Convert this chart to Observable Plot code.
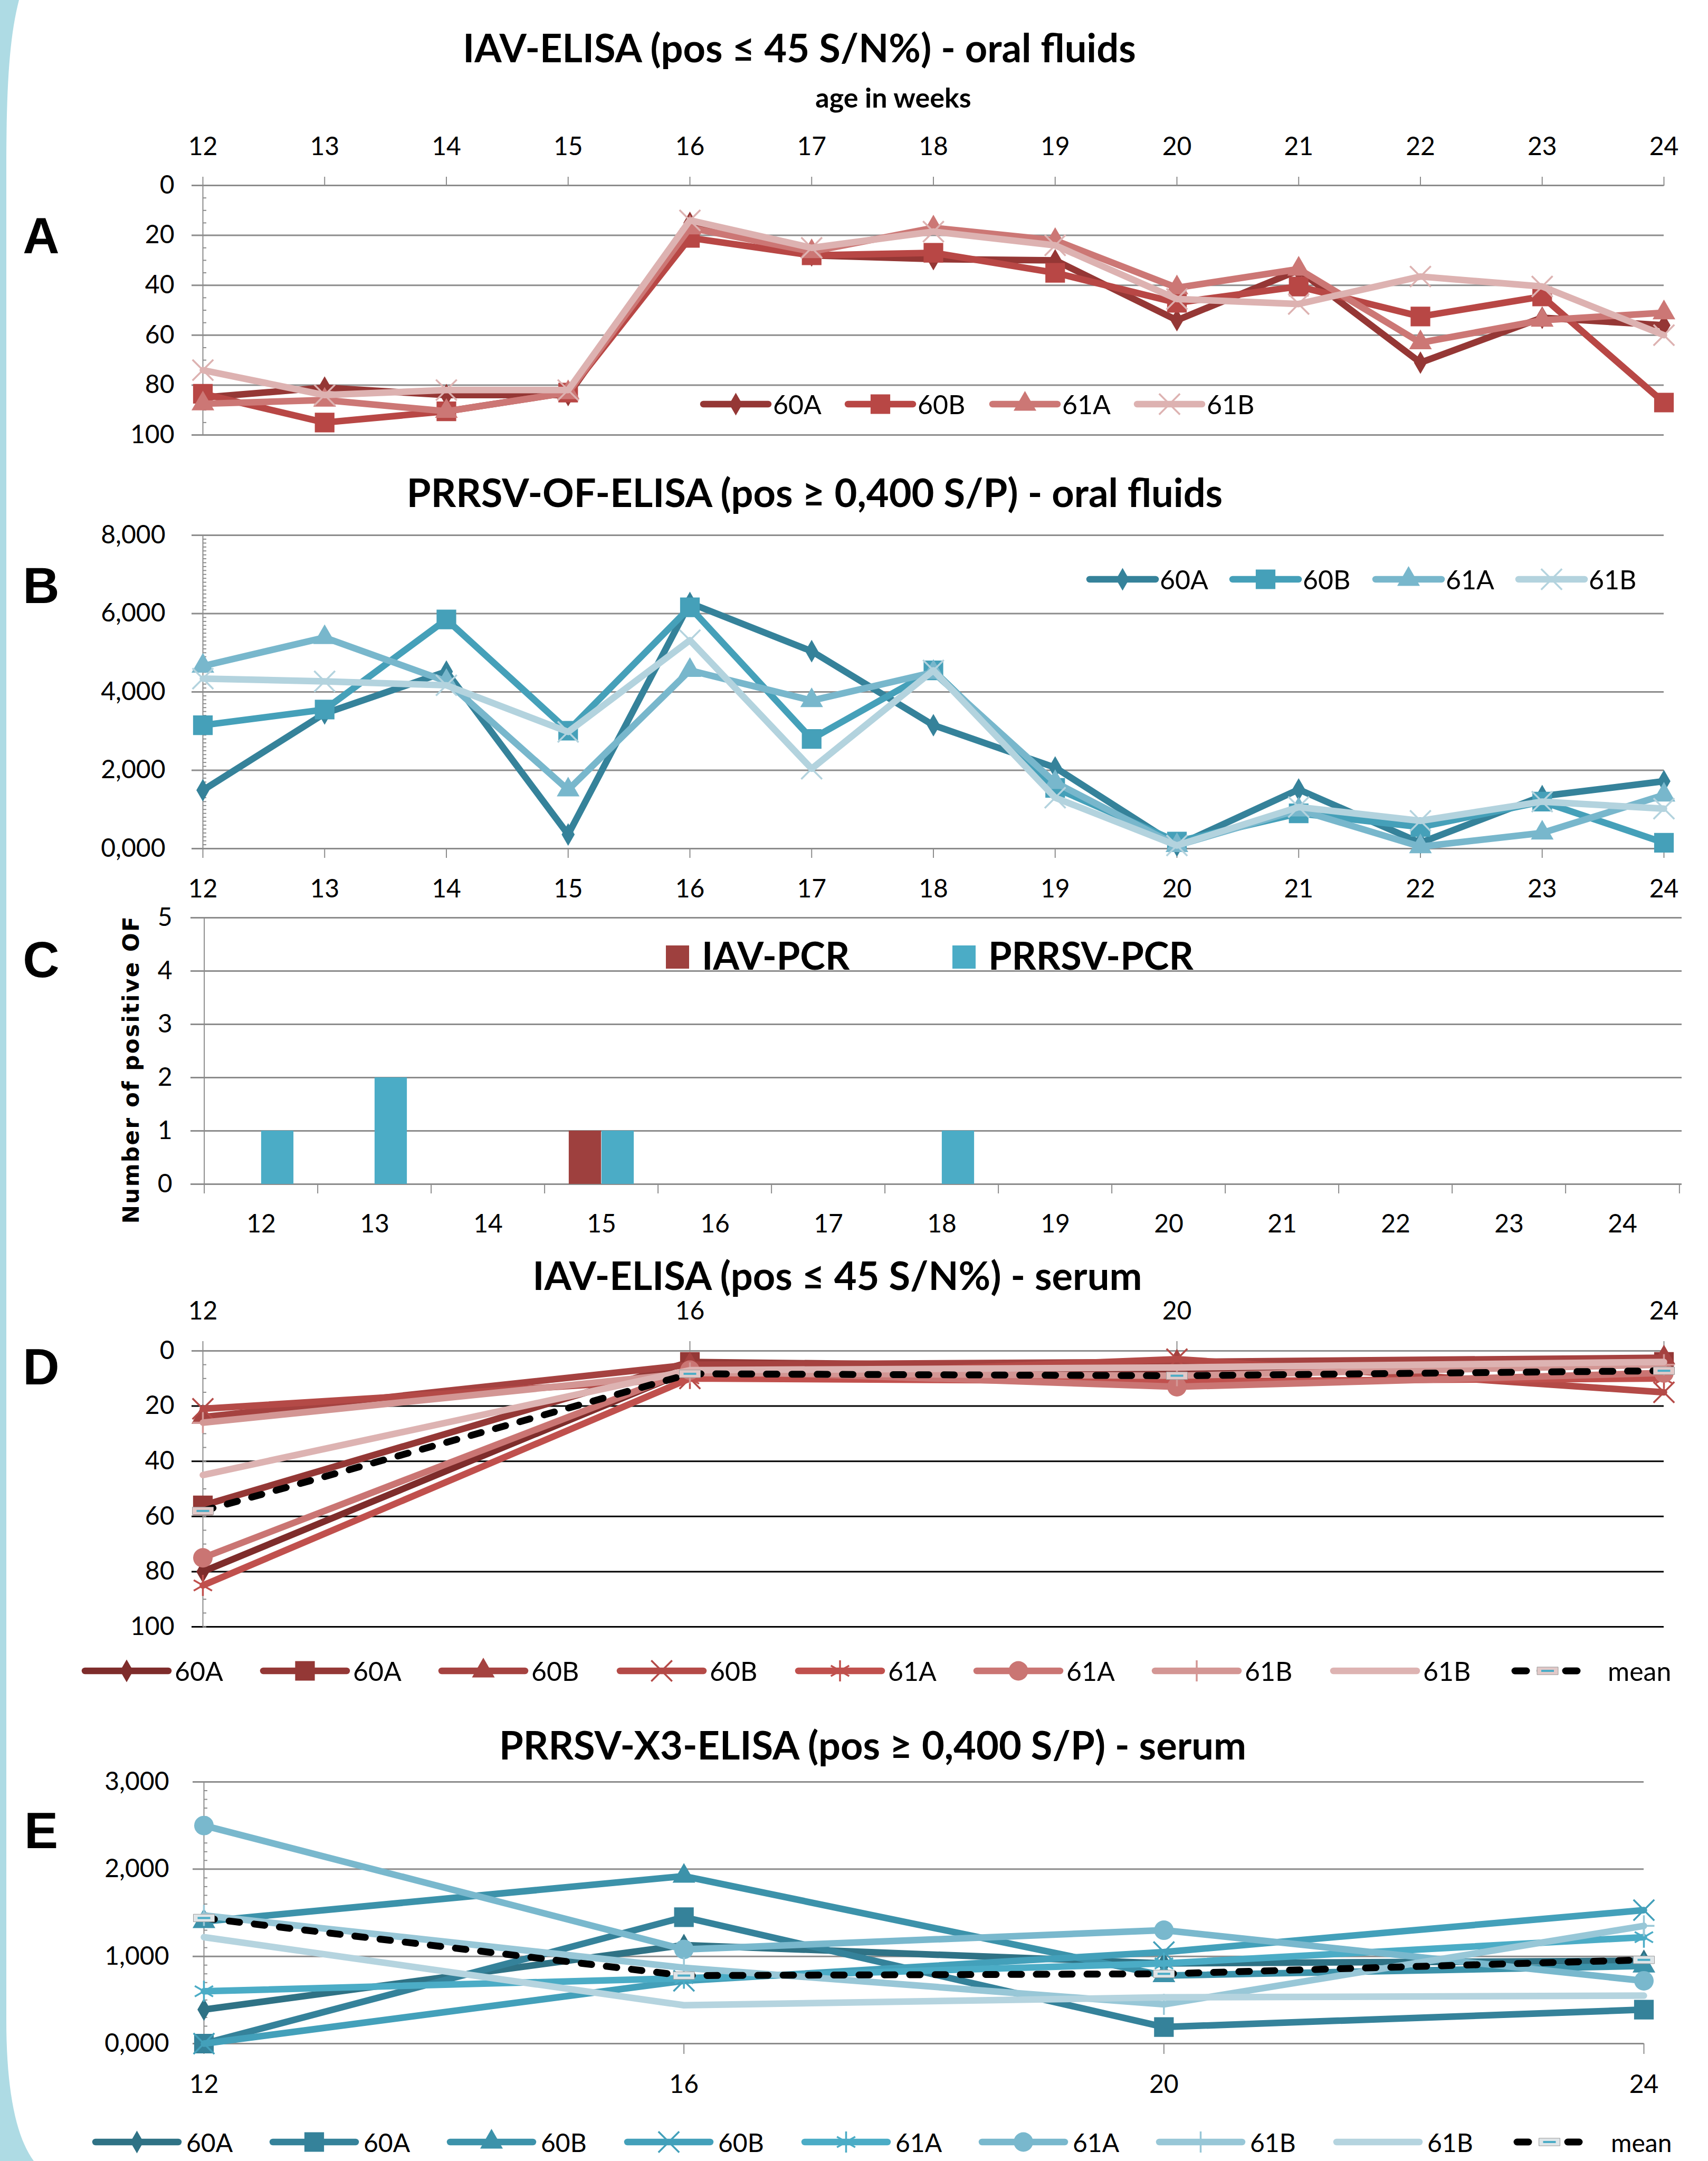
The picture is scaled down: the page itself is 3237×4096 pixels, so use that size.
<!DOCTYPE html>
<html><head><meta charset="utf-8">
<script src="https://cdn.jsdelivr.net/npm/d3@7"></script>
<script src="https://cdn.jsdelivr.net/npm/@observablehq/plot@0.6"></script>
<style>
html,body{margin:0;padding:0;background:#fff;}
#root{position:relative;width:3237px;height:4096px;overflow:hidden;background:#fff;}
.panel{position:absolute;left:0;}
#overlay{position:absolute;left:0;top:0;}
</style></head><body><div id="root"></div>
<script>
// ---------------- DATA ----------------
const weeksOF = [12,13,14,15,16,17,18,19,20,21,22,23,24];
const weeksSerum = [12,16,20,24];
const groupsOF = ["60A","60B","61A","61B"];

// A: IAV-ELISA oral fluids (S/N%)
const iavOF60A = [85,81,84,84,15,28,29.5,30,54,34,71,53,56];
const iavOF60B = [83.5,95,90.5,83,21,28,27,35,47,40.5,52.5,44.5,87];
const iavOF61A = [87.5,86,90.5,83,17,26.5,17,22,41,33.5,63,54,51];
const iavOF61B = [74,84,82,82,14,25,18.5,24,45.5,47.5,36.5,40.5,60];

// B: PRRSV-OF-ELISA oral fluids (S/P)
const prrsvOF60A = [1.49,3.45,4.52,0.36,6.27,5.04,3.15,2.07,0.08,1.51,0.15,1.34,1.72];
const prrsvOF60B = [3.15,3.55,5.85,3.01,6.16,2.8,4.55,1.55,0.18,0.9,0.55,1.2,0.15];
const prrsvOF61A = [4.66,5.39,4.27,1.5,4.55,3.78,4.5,1.69,0.08,0.99,0.05,0.4,1.37];
const prrsvOF61B = [4.34,4.27,4.17,2.98,5.32,2.04,4.55,1.3,0.08,1.06,0.71,1.2,1.02];

// C: number of positive oral fluids
const pcrTests = ["IAV-PCR","PRRSV-PCR"];
const iavPCR   = [0,0,0,1,0,0,0,0,0,0,0,0,0];
const prrsvPCR = [1,2,0,1,0,0,1,0,0,0,0,0,0];

// D: IAV-ELISA serum (S/N%)
const serumLabels = ["60A","60A","60B","60B","61A","61A","61B","61B","mean"];
const iavSerum60A_1 = [80,7,7,3];
const iavSerum60A_2 = [56,4,6,4];
const iavSerum60B_1 = [24,5,4,2.5];
const iavSerum60B_2 = [21,10,3,15];
const iavSerum61A_1 = [85,10,11,10];
const iavSerum61A_2 = [75,7,13,8];
const iavSerum61B_1 = [26,8,9,5];
const iavSerum61B_2 = [45,7,6,4];
const iavSerumMean  = [58,8.3,9,7.2];

// E: PRRSV-X3-ELISA serum (S/P)
const prSerum60A_1 = [0.39,1.13,0.92,0.95];
const prSerum60A_2 = [0.0,1.45,0.19,0.39];
const prSerum60B_1 = [1.40,1.92,0.78,0.89];
const prSerum60B_2 = [0.0,0.72,1.05,1.53];
const prSerum61A_1 = [0.6,0.75,0.92,1.22];
const prSerum61A_2 = [2.5,1.08,1.3,0.72];
const prSerum61B_1 = [1.47,0.87,0.45,1.35];
const prSerum61B_2 = [1.22,0.44,0.53,0.55];
const prSerumMean  = [1.44,0.78,0.80,0.96];

// tick values
const yTicksIAV = [0,20,40,60,80,100];
const yTicksOF = [0,2,4,6,8];
const yTicksPCR = [0,1,2,3,4,5];
const yTicksPRSerum = [0,1,2,3];

// ---------------- STYLE ----------------
const colorsIAV_OF = ["#953735","#b84745","#cc7775","#ddb2b1"];
const colorsPR_OF  = ["#35829a","#45a0b9","#78b7cc","#b3d3de"];
const symbolsOF    = ["diamond","square","triangle","times"];
const colorsIAV_S  = ["#7e2c2b","#943836","#a54240","#b44a47","#c0504d","#ca7573","#d39694","#ddb3b2"];
const colorsPR_S   = ["#2f7285","#35829a","#3c92aa","#43a0ba","#4bacc6","#79b8cd","#98c7d7","#b5d4df"];
const symbolsS     = ["diamond","square","triangle","times","asterisk","circle","thinplus","none"];
const symR = {diamond:13, square:21, triangle:16, times:18, asterisk:19, circle:18.5, thinplus:20};
const strokeOnly = new Set(["times","asterisk","thinplus"]);
const thinPlus = {draw(ctx, size){ const r = Math.sqrt(size/Math.PI); ctx.moveTo(0,-r); ctx.lineTo(0,r); ctx.moveTo(-r,0); ctx.lineTo(r,0);} };
const dashRect = {draw(ctx, size){ const r = Math.sqrt(size/Math.PI); ctx.rect(-r,-r*0.36,2*r,r*0.72);} };
const hDash = {draw(ctx, size){ const r = Math.sqrt(size/Math.PI); ctx.moveTo(-r*0.6,0); ctx.lineTo(r*0.6,0);} };
const plotSym = s => s === "thinplus" ? thinPlus : s;
const d3Sym = {diamond:d3.symbolDiamond, square:d3.symbolSquare, triangle:d3.symbolTriangle, times:d3.symbolTimes, asterisk:d3.symbolAsterisk, circle:d3.symbolCircle, thinplus:thinPlus};
const GRAY = "#8c8c8c";
const LW = 12.5;
const fmtSP = d => d3.format(".3f")(d).replace(".", ",");

// ---------------- TABLES ----------------
function longRows(weeks, arrays) {
  const rows = [];
  arrays.forEach((arr, k) => arr.forEach((v, i) => rows.push({key: k, week: weeks[i], value: v})));
  return rows;
}
const rowsA = longRows(weeksOF, [iavOF60A, iavOF60B, iavOF61A, iavOF61B]);
const rowsB = longRows(weeksOF, [prrsvOF60A, prrsvOF60B, prrsvOF61A, prrsvOF61B]);
const rowsD = longRows(weeksSerum, [iavSerum60A_1, iavSerum60A_2, iavSerum60B_1, iavSerum60B_2, iavSerum61A_1, iavSerum61A_2, iavSerum61B_1, iavSerum61B_2, iavSerumMean]);
const rowsE = longRows(weeksSerum, [prSerum60A_1, prSerum60A_2, prSerum60B_1, prSerum60B_2, prSerum61A_1, prSerum61A_2, prSerum61B_1, prSerum61B_2, prSerumMean]);
const rowsC = [];
weeksOF.forEach((w, i) => {
  rowsC.push({test: pcrTests[0], week: w, value: iavPCR[i]});
  rowsC.push({test: pcrTests[1], week: w, value: prrsvPCR[i]});
});

const seriesOF = (colors) => groupsOF.map((g, i) => ({label: g, color: colors[i], symbol: symbolsOF[i]}));
const seriesS = (colors, meanFill) => serumLabels.map((g, i) => i === 8
  ? {label: g, mean: true, markerFill: meanFill}
  : {label: g, color: colors[i], symbol: symbolsS[i]});

function seriesMarks(rows, series) {
  const marks = [];
  series.forEach((s, k) => {
    const d = rows.filter(r => r.key === k);
    if (s.mean) {
      marks.push(Plot.line(d, {x: "week", y: "value", stroke: "#000", strokeWidth: 13, strokeDasharray: "20,28", strokeLinecap: "round"}));
      marks.push(Plot.dot(d, {x: "week", y: "value", symbol: dashRect, r: 20, fill: s.markerFill, stroke: "#9a9a9a", strokeWidth: 1}));
      marks.push(Plot.dot(d, {x: "week", y: "value", symbol: hDash, r: 20, fill: "none", stroke: "#4bacc6", strokeWidth: 4}));
    } else {
      marks.push(Plot.line(d, {x: "week", y: "value", stroke: s.color, strokeWidth: LW, strokeLinejoin: "round"}));
      if (s.symbol !== "none") {
        const so = strokeOnly.has(s.symbol);
        marks.push(Plot.dot(d, {x: "week", y: "value", symbol: plotSym(s.symbol), r: symR[s.symbol],
          fill: so ? "none" : s.color, stroke: so ? s.color : "none", strokeWidth: so ? 3.5 : 0}));
      }
    }
  });
  return marks;
}

const root = document.getElementById("root");
function place(svg, top) {
  const wrap = document.createElement("div");
  wrap.className = "panel";
  wrap.style.top = top + "px";
  wrap.appendChild(svg);
  root.appendChild(wrap);
}

function linePanel(cfg) {
  const marks = [
    Plot.ruleY(cfg.grayGrid, {y: d => d, stroke: GRAY, strokeWidth: 3, insetLeft: -21}),
    Plot.ruleY(cfg.blackGrid || [], {y: d => d, stroke: "#000", strokeWidth: 3, insetLeft: -21}),
    Plot.ruleX([cfg.xDomain[0]], {x: d => d, stroke: GRAY, strokeWidth: 2}),
    Plot.axisY({ticks: cfg.yMinor, tickSize: 7, dx: 7, tickFormat: () => "", stroke: GRAY, strokeWidth: 2, label: null}),
    Plot.axisY({ticks: cfg.yTicks, tickSize: 0, tickPadding: cfg.yPad, tickFormat: cfg.yFmt, fontSize: 48, fill: "#000", label: null}),
    Plot.axisX({anchor: cfg.xAnchor, ticks: cfg.xTicks, tickSize: cfg.xTickSize, tickFormat: () => "", stroke: GRAY, strokeWidth: 2, label: null}),
    Plot.axisX({anchor: cfg.xAnchor, ticks: cfg.xTicks, tickSize: 0, tickPadding: cfg.xPad, fontSize: 48, fill: "#000", label: null}),
    ...seriesMarks(cfg.rows, cfg.series)
  ];
  const svg = Plot.plot({
    width: 3237, height: cfg.height,
    marginTop: cfg.mt, marginBottom: cfg.mb, marginLeft: cfg.ml, marginRight: cfg.mr,
    style: {fontFamily: "Lato, sans-serif", fontSize: "48px", color: "#000", background: "transparent"},
    x: {domain: cfg.xDomain, label: null},
    y: {domain: cfg.yDomain, reverse: cfg.reverse || false, label: null},
    marks
  });
  place(svg, cfg.top);
}

// ---- Panel A ---- frame 351..824
linePanel({
  top: 230, height: 634, mt: 121, mb: 40, ml: 384, mr: 84,
  xDomain: [12, 24], xTicks: weeksOF, xAnchor: "top", xTickSize: 17, xPad: 58,
  yDomain: [0, 100], reverse: true, yTicks: yTicksIAV, yMinor: d3.range(0, 101, 5), yPad: 54, yFmt: d => String(d),
  grayGrid: yTicksIAV, rows: rowsA, series: seriesOF(colorsIAV_OF)
});
// ---- Panel B ---- frame 1014..1608
linePanel({
  top: 974, height: 744, mt: 40, mb: 110, ml: 384, mr: 84,
  xDomain: [12, 24], xTicks: weeksOF, xAnchor: "bottom", xTickSize: 18, xPad: 58,
  yDomain: [0, 8], yTicks: yTicksOF, yMinor: d3.range(0, 8.001, 0.1), yPad: 71, yFmt: fmtSP,
  grayGrid: yTicksOF, rows: rowsB, series: seriesOF(colorsPR_OF)
});
// ---- Panel C ---- frame 1739..2244
{
  const ml = 382, mr = 50, mt = 40, mb = 110, H = 655;
  const bw = (3237 - ml - mr) / weeksOF.length;
  const frameH = H - mt - mb;
  const barW = 62;
  const svg = Plot.plot({
    width: 3237, height: H, marginTop: mt, marginBottom: mb, marginLeft: ml, marginRight: mr,
    style: {fontFamily: "Lato, sans-serif", fontSize: "48px", color: "#000", background: "transparent"},
    x: {type: "band", domain: weeksOF, padding: 0, label: null},
    y: {domain: [0, 5], label: null},
    marks: [
      Plot.ruleY(yTicksPCR, {y: d => d, stroke: GRAY, strokeWidth: 3, insetLeft: -21}),
      Plot.ruleX([weeksOF[0]], {x: d => d, dx: -bw / 2, stroke: GRAY, strokeWidth: 2}),
      Plot.ruleX(weeksOF, {x: d => d, dx: -bw / 2, stroke: GRAY, strokeWidth: 2, insetTop: frameH, insetBottom: -18}),
      Plot.ruleX([weeksOF[weeksOF.length - 1]], {x: d => d, dx: bw / 2, stroke: GRAY, strokeWidth: 2, insetTop: frameH, insetBottom: -18}),
      Plot.axisY({ticks: yTicksPCR, tickSize: 0, tickPadding: 56, tickFormat: d => String(d), fontSize: 48, fill: "#000", label: null}),
      Plot.axisX({tickSize: 0, tickPadding: 57, fontSize: 48, fill: "#000", label: null}),
      Plot.barY(rowsC.filter(d => d.test === pcrTests[0] && d.value > 0), {x: "week", y: "value", fill: "#9e403e", insetLeft: bw / 2 - barW, insetRight: bw / 2}),
      Plot.barY(rowsC.filter(d => d.test === pcrTests[1] && d.value > 0), {x: "week", y: "value", fill: "#4bacc6", insetLeft: bw / 2, insetRight: bw / 2 - barW})
    ]
  });
  place(svg, 1699);
}
// ---- Panel D ---- frame 2560..3083
linePanel({
  top: 2455, height: 668, mt: 105, mb: 40, ml: 384, mr: 84,
  xDomain: [12, 24], xTicks: weeksSerum, xAnchor: "top", xTickSize: 19, xPad: 60,
  yDomain: [0, 100], reverse: true, yTicks: yTicksIAV, yMinor: d3.range(0, 101, 5), yPad: 54, yFmt: d => String(d),
  grayGrid: [0], blackGrid: yTicksIAV.slice(1), rows: rowsD, series: seriesS(colorsIAV_S, "#e2c9c8")
});
// ---- Panel E ---- frame 3377..3873
linePanel({
  top: 3337, height: 646, mt: 40, mb: 110, ml: 386, mr: 122,
  xDomain: [12, 24], xTicks: weeksSerum, xAnchor: "bottom", xTickSize: 20, xPad: 59,
  yDomain: [0, 3], yTicks: yTicksPRSerum, yMinor: d3.range(0, 3.001, 0.1), yPad: 66, yFmt: fmtSP,
  grayGrid: yTicksPRSerum, rows: rowsE, series: seriesS(colorsPR_S, "#dfe5e8")
});

// ---------------- OVERLAY: titles, letters, legends ----------------
const ov = d3.select("#root").append("svg").attr("id", "overlay").attr("width", 3237).attr("height", 4096);
ov.append("path")
  .attr("d", "M0,0 L36,0 C18,70 12,160 12,320 L12,3830 C12,3960 30,4050 64,4096 L0,4096 Z")
  .attr("fill", "#aedbe4");

function txt(x, y, s, {size = 48, weight = 400, anchor = "start", family = "Lato, sans-serif", baseline = null, rotate = 0, spacing = 0} = {}) {
  const t = ov.append("text").attr("x", x).attr("y", y).text(s)
    .attr("font-family", family).attr("font-size", size).attr("font-weight", weight)
    .attr("text-anchor", anchor).attr("fill", "#000");
  if (baseline) t.attr("dominant-baseline", baseline);
  if (spacing) t.attr("letter-spacing", spacing);
  if (rotate) t.attr("transform", `rotate(${rotate},${x},${y})`);
  return t;
}
const T = {size: 74, weight: 700, anchor: "middle"};
txt(1515, 118, "IAV-ELISA (pos ≤ 45 S/N%) - oral fluids", T);
txt(1693, 204, "age in weeks", {size: 52, weight: 700, anchor: "middle"});
txt(1544, 961, "PRRSV-OF-ELISA (pos ≥ 0,400 S/P) - oral fluids", T);
txt(1587, 2445, "IAV-ELISA (pos ≤ 45 S/N%) - serum", T);
txt(1654, 3335, "PRRSV-X3-ELISA (pos ≥ 0,400 S/P) - serum", T);

const L = {size: 96, weight: 700, anchor: "middle", family: "Liberation Sans, Arial, sans-serif"};
txt(78, 480, "A", L);
txt(78, 1143, "B", L);
txt(78, 1852, "C", L);
txt(78, 2624, "D", L);
txt(78, 3503, "E", L);

txt(263, 2027, "Number of positive OF", {size: 42, weight: 700, anchor: "middle", family: "DejaVu Sans, sans-serif", rotate: -90, spacing: 2.5});

// C legend
ov.append("rect").attr("x", 1262).attr("y", 1792).attr("width", 44).attr("height", 44).attr("fill", "#9e403e");
txt(1330, 1838, pcrTests[0], {size: 72, weight: 700});
ov.append("rect").attr("x", 1805).attr("y", 1792).attr("width", 44).attr("height", 44).attr("fill", "#4bacc6");
txt(1873, 1838, pcrTests[1], {size: 72, weight: 700});

function legend(series, {x0, y, step, len, textDx, size}) {
  series.forEach((s, i) => {
    const x = x0 + i * step;
    if (s.mean) {
      const ml = len - 22, cx = x + ml / 2;
      ov.append("line").attr("x1", x + 6).attr("x2", x + ml).attr("y1", y).attr("y2", y)
        .attr("stroke", "#000").attr("stroke-width", 13).attr("stroke-dasharray", "22,26").attr("stroke-linecap", "round");
      ov.append("path").attr("d", d3.symbol(dashRect, Math.PI * 400)()).attr("transform", `translate(${cx},${y})`)
        .attr("fill", s.markerFill).attr("stroke", "#9a9a9a").attr("stroke-width", 1);
      ov.append("path").attr("d", d3.symbol(hDash, Math.PI * 400)()).attr("transform", `translate(${cx},${y})`)
        .attr("fill", "none").attr("stroke", "#4bacc6").attr("stroke-width", 4);
      txt(x + textDx + 12, y, s.label, {size, baseline: "central"});
    } else {
      const cx = x + len / 2;
      ov.append("line").attr("x1", x).attr("x2", x + len).attr("y1", y).attr("y2", y)
        .attr("stroke", s.color).attr("stroke-width", LW).attr("stroke-linecap", "round");
      if (s.symbol !== "none") {
        const so = strokeOnly.has(s.symbol), r = symR[s.symbol];
        ov.append("path").attr("d", d3.symbol(d3Sym[s.symbol], Math.PI * r * r)()).attr("transform", `translate(${cx},${y})`)
          .attr("fill", so ? "none" : s.color).attr("stroke", so ? s.color : "none").attr("stroke-width", so ? 3.5 : 0);
      }
      txt(x + textDx, y, s.label, {size, baseline: "central"});
    }
  });
}
legend(seriesOF(colorsIAV_OF), {x0: 1333, y: 766, step: 274, len: 123, textDx: 132, size: 50});
legend(seriesOF(colorsPR_OF), {x0: 2065, y: 1098, step: 271, len: 125, textDx: 133, size: 50});
legend(seriesS(colorsIAV_S, "#e2c9c8"), {x0: 161, y: 3167, step: 338, len: 158, textDx: 170, size: 50});
legend(seriesS(colorsPR_S, "#dfe5e8"), {x0: 181, y: 4060, step: 336, len: 157, textDx: 172, size: 48});
</script></body></html>
